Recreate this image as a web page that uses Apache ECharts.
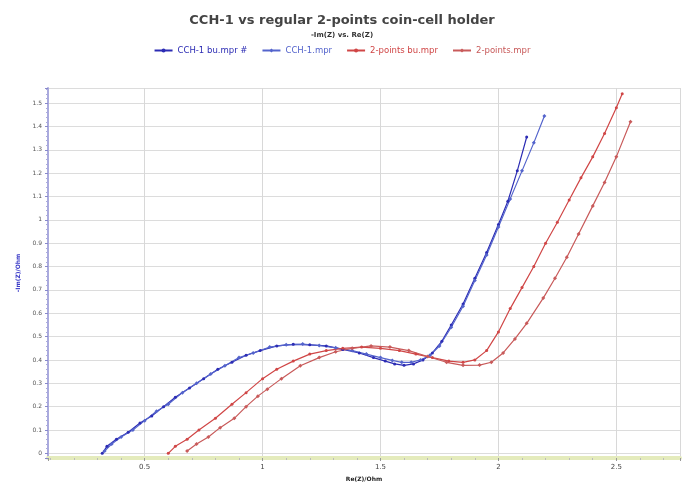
<!DOCTYPE html>
<html>
<head>
<meta charset="utf-8">
<script src="https://cdn.jsdelivr.net/npm/echarts@6/dist/echarts.min.js"></script>
<style>
    html, body { margin: 0; padding: 0; background: #fff; }
    #main { width: 684px; height: 487px; }
</style>
</head>
<body>
<div id="main"></div>
<script>
// legend names
var seriesNames = ['CCH-1 bu.mpr #', 'CCH-1.mpr', '2-points bu.mpr', '2-points.mpr'];

// CCH-1 bu.mpr #
var cchBuX = [0.32, 0.34, 0.38, 0.43, 0.48, 0.53, 0.58, 0.63, 0.69, 0.75, 0.81, 0.87, 0.93, 0.99, 1.06, 1.13, 1.2, 1.27, 1.34, 1.41, 1.47, 1.52, 1.56, 1.6, 1.64, 1.68, 1.72, 1.76, 1.8, 1.85, 1.9, 1.95, 2.0, 2.04, 2.08, 2.12];
var cchBuY = [0.0, 0.03, 0.06, 0.09, 0.13, 0.16, 0.2, 0.24, 0.28, 0.32, 0.36, 0.39, 0.42, 0.44, 0.46, 0.467, 0.465, 0.46, 0.445, 0.43, 0.41, 0.395, 0.383, 0.377, 0.383, 0.4, 0.43, 0.48, 0.55, 0.64, 0.75, 0.86, 0.98, 1.08, 1.21, 1.355];

// CCH-1.mpr
var cchX = [0.33, 0.36, 0.4, 0.45, 0.5, 0.55, 0.6, 0.66, 0.72, 0.78, 0.84, 0.9, 0.96, 1.03, 1.1, 1.17, 1.24, 1.31, 1.38, 1.44, 1.5, 1.55, 1.59, 1.63, 1.67, 1.71, 1.75, 1.8, 1.85, 1.9, 1.95, 2.0, 2.05, 2.1, 2.15, 2.195];
var cchY = [0.01, 0.04, 0.07, 0.1, 0.14, 0.18, 0.21, 0.26, 0.3, 0.34, 0.375, 0.41, 0.43, 0.455, 0.465, 0.468, 0.462, 0.452, 0.44, 0.425, 0.41, 0.398, 0.39, 0.39, 0.4, 0.42, 0.46, 0.54, 0.63, 0.74, 0.85, 0.97, 1.09, 1.21, 1.33, 1.445];

// 2-points bu.mpr
var ptsBuX = [0.6, 0.63, 0.68, 0.73, 0.8, 0.87, 0.93, 1.0, 1.06, 1.13, 1.2, 1.27, 1.34, 1.42, 1.5, 1.58, 1.65, 1.72, 1.79, 1.85, 1.9, 1.95, 2.0, 2.05, 2.1, 2.15, 2.2, 2.25, 2.3, 2.35, 2.4, 2.45, 2.5, 2.525];
var ptsBuY = [0.0, 0.03, 0.06, 0.1, 0.15, 0.21, 0.26, 0.32, 0.36, 0.395, 0.425, 0.44, 0.45, 0.455, 0.45, 0.44, 0.425, 0.41, 0.395, 0.39, 0.4, 0.44, 0.52, 0.62, 0.71, 0.8, 0.9, 0.99, 1.085, 1.18, 1.27, 1.37, 1.48, 1.54];

// 2-points.mpr
var ptsX = [0.68, 0.72, 0.77, 0.82, 0.88, 0.93, 0.98, 1.02, 1.08, 1.16, 1.24, 1.31, 1.38, 1.46, 1.54, 1.62, 1.7, 1.78, 1.85, 1.92, 1.97, 2.02, 2.07, 2.12, 2.19, 2.24, 2.29, 2.34, 2.4, 2.45, 2.5, 2.56];
var ptsY = [0.01, 0.04, 0.07, 0.11, 0.15, 0.2, 0.245, 0.275, 0.32, 0.375, 0.41, 0.435, 0.45, 0.46, 0.455, 0.44, 0.415, 0.39, 0.377, 0.378, 0.39, 0.43, 0.49, 0.557, 0.665, 0.75, 0.84, 0.94, 1.06, 1.16, 1.27, 1.42];

function zip(xs, ys) {
    var out = [];
    for (var i = 0; i < xs.length; i++) {
        out.push([xs[i], ys[i]]);
    }
    return out;
}

var lineSeries = function (name, data, color, symbol, size) {
    return {
        name: name,
        type: 'line',
        data: data,
        symbol: symbol,
        symbolSize: size,
        showSymbol: true,
        lineStyle: { color: color, width: 1.2 },
        itemStyle: { color: color },
        animation: false
    };
};

var chart = echarts.init(document.getElementById('main'));
var option = {
    textStyle: { fontFamily: 'DejaVu Sans' },
    title: {
        text: 'CCH-1 vs regular 2-points coin-cell holder',
        subtext: '-Im(Z) vs. Re(Z)',
        left: 'center',
        top: 9,
        itemGap: 5,
        textStyle: { fontSize: 13, color: '#444', fontWeight: 'bold' },
        subtextStyle: { fontSize: 7, color: '#333', fontWeight: 'bold' }
    },
    legend: {
        top: 41,
        left: 'center',
        itemWidth: 18,
        itemHeight: 5,
        itemGap: 14,
        data: seriesNames,
        textStyle: { fontSize: 8.5, color: 'inherit' }
    },
    grid: { left: 48, right: 4, top: 88, bottom: 29 },
    xAxis: {
        type: 'value',
        min: 0.09,
        max: 2.77,
        splitNumber: 5,
        name: 'Re(Z)/Ohm',
        nameLocation: 'middle',
        nameGap: 18,
        nameTextStyle: { fontSize: 6, fontWeight: 'bold', color: '#222' },
        axisLine: { onZero: false, lineStyle: { color: '#e4ebbc', width: 4 } },
        axisTick: { show: true, length: 3, lineStyle: { color: '#999' } },
        minorTick: { show: true, splitNumber: 5, length: 2, lineStyle: { color: '#bbb' } },
        axisLabel: { fontSize: 7, color: '#444', margin: 6, showMinLabel: false, showMaxLabel: false },
        splitLine: { show: true, lineStyle: { color: '#d8d8d8' } }
    },
    yAxis: {
        type: 'value',
        min: -0.02,
        max: 1.565,
        splitNumber: 16,
        name: '-Im(Z)/Ohm',
        nameLocation: 'middle',
        nameGap: 26,
        nameTextStyle: { fontSize: 6, fontWeight: 'bold', color: '#3a3ac8' },
        axisLine: { show: true, lineStyle: { color: '#aaaadd', width: 2 } },
        axisTick: { show: true, length: 3, lineStyle: { color: '#8888cc' } },
        minorTick: { show: true, splitNumber: 5, length: 2, lineStyle: { color: '#aaaadd' } },
        axisLabel: { fontSize: 6, color: '#555', margin: 6, showMinLabel: false, showMaxLabel: false },
        splitLine: { show: true, lineStyle: { color: '#dcdcdc' } }
    },
    series: [
        lineSeries(seriesNames[0], zip(cchBuX, cchBuY), '#2c2cb4', 'circle', 3),
        lineSeries(seriesNames[1], zip(cchX, cchY), '#5464cc', 'diamond', 4),
        lineSeries(seriesNames[2], zip(ptsBuX, ptsBuY), '#d04646', 'circle', 3),
        lineSeries(seriesNames[3], zip(ptsX, ptsY), '#c85a5a', 'diamond', 4)
    ]
};
chart.setOption(option);
</script>
</body>
</html>
